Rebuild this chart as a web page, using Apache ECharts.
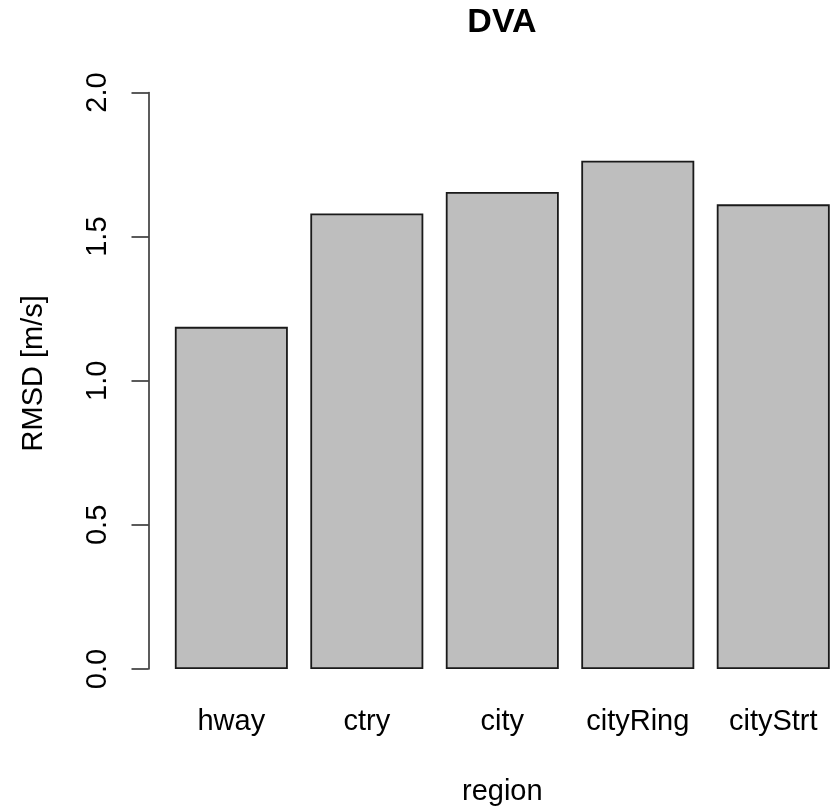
<!DOCTYPE html>
<html>
<head>
<meta charset="utf-8">
<title>DVA</title>
<script src="https://cdn.jsdelivr.net/npm/echarts@6/dist/echarts.min.js"></script>
<style>
  html, body { margin: 0; padding: 0; background: #ffffff; overflow: hidden; }
  /* the plot region runs past the right edge of the window, so the last bar is cut off */
  #chart { width: 860px; height: 811px; }
</style>
</head>
<body>
<div id="chart"></div>
<script>
// Root-mean-square deviation of the DVA signal per driving region
const regions = ['hway', 'ctry', 'city', 'cityRing', 'cityStrt'];
const rmsd = [1.187, 1.580, 1.655, 1.763, 1.612];
const yTicks = [0, 0.5, 1.0, 1.5, 2.0];

const labelFont = '"Liberation Sans", Arial, sans-serif';

const chart = echarts.init(document.getElementById('chart'), null, { renderer: 'canvas' });

chart.setOption({
  backgroundColor: '#ffffff',
  animation: false,
  title: {
    text: 'DVA',
    left: 502,
    top: 6,
    padding: 0,
    textAlign: 'center',
    textStyle: {
      fontFamily: labelFont,
      fontWeight: 'bold',
      fontSize: 34,
      color: '#000000'
    }
  },
  grid: {
    left: 163.6,
    top: 92.5,
    width: 677.4,
    height: 576.5,
    containLabel: false
  },
  xAxis: {
    type: 'category',
    data: regions,
    boundaryGap: true,
    name: 'region',
    nameLocation: 'middle',
    nameGap: 108,
    nameTextStyle: {
      fontFamily: labelFont,
      fontSize: 29,
      color: '#000000'
    },
    axisLine: { show: false },
    axisTick: { show: false },
    splitLine: { show: false },
    axisLabel: {
      interval: 0,
      margin: 38.5,
      fontFamily: labelFont,
      fontSize: 29,
      color: '#000000'
    }
  },
  yAxis: {
    type: 'value',
    min: yTicks[0],
    max: yTicks[yTicks.length - 1],
    interval: 0.5,
    offset: 15.1,
    name: 'RMSD [m/s]',
    nameLocation: 'middle',
    nameRotate: 90,
    nameGap: 100,
    nameTextStyle: {
      fontFamily: labelFont,
      fontSize: 29,
      color: '#000000',
      padding: [0, 0, 0, 15]
    },
    axisLine: { show: true, lineStyle: { color: '#262626', width: 1.5 } },
    axisTick: { show: true, length: 17, lineStyle: { color: '#262626', width: 1.5 } },
    splitLine: { show: false },
    axisLabel: {
      rotate: 90,
      margin: 36,
      fontFamily: labelFont,
      fontSize: 29,
      color: '#000000',
      formatter: function (v) { return v.toFixed(1); }
    }
  },
  series: [{
    type: 'bar',
    data: rmsd,
    barWidth: 113,
    itemStyle: {
      color: '#bebebe',
      borderColor: '#1a1a1a',
      borderWidth: 1.8
    },
    emphasis: { disabled: true }
  }]
});
</script>
</body>
</html>
